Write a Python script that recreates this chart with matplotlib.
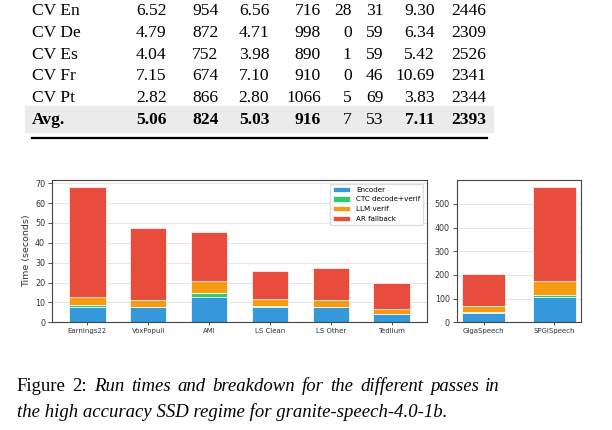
import matplotlib
matplotlib.use("Agg")
import matplotlib.pyplot as plt
import numpy as np

W, H = 612, 430

# table data (rows visible in the crop)
row_names = ["CV En", "CV De", "CV Es", "CV Fr", "CV Pt"]
col_1 = ["6.52", "4.79", "4.04", "7.15", "2.82"]
col_2 = ["954", "872", "752", "674", "866"]
col_3 = ["6.56", "4.71", "3.98", "7.10", "2.80"]
col_4 = ["716", "998", "890", "910", "1066"]
col_5 = ["28", "0", "1", "0", "5"]
col_6 = ["31", "59", "59", "46", "69"]
col_7 = ["9.30", "6.34", "5.42", "10.69", "3.83"]
col_8 = ["2446", "2309", "2526", "2341", "2344"]
avg_row = ["5.06", "824", "5.03", "916", "7", "53", "7.11", "2393"]
avg_bold = [True, True, True, True, False, False, True, True]

# chart data (seconds)
left_sets = ["Earnings22", "VoxPopuli", "AMI", "LS Clean", "LS Other", "Tedlium"]
left_encoder = [7.8, 7.5, 12.9, 7.5, 7.5, 4.2]
left_ctc = [0.9, 0.3, 1.6, 0.8, 0.2, 0.1]
left_llm = [3.8, 3.4, 6.2, 3.4, 3.5, 2.2]
left_ar = [55.7, 36.4, 24.8, 14.0, 15.9, 13.4]

right_sets = ["GigaSpeech", "SPGISpeech"]
right_encoder = [40, 106]
right_ctc = [4.5, 8.7]
right_llm = [24, 59]
right_ar = [134.5, 399]

labels = ["Encoder", "CTC decode+verif", "LLM verif", "AR fallback"]
colors = ["#3498db", "#2ecc71", "#f39c12", "#e74c3c"]

caption_1 = "Run times and breakdown for the different passes in"
caption_2 = "the high accuracy SSD regime for granite-speech-4.0-1b."

fig = plt.figure(figsize=(W / 100, H / 100), dpi=100)


def fx(x):
    return x / W


def fy(y):
    return 1 - y / H


# ---- table ----
serif = "Liberation Serif"
fs_tab = 12.6
baselines = [15, 36.8, 58.6, 80.4, 102.2]
avg_base = 124
col_right = [166.7, 218.3, 269.3, 321, 351.7, 383.3, 435, 486]
cols = [col_1, col_2, col_3, col_4, col_5, col_6, col_7, col_8]

# grey band behind the average row
fig.patches.append(plt.Rectangle((fx(25), fy(132.3)), fx(493.3) - fx(25), fy(106) - fy(132.3),
                                 transform=fig.transFigure, color="#ebebeb", zorder=0))
for i, name in enumerate(row_names):
    fig.text(fx(31.7), fy(baselines[i]), name, family=serif, fontsize=fs_tab, va="baseline")
    for c, col in enumerate(cols):
        fig.text(fx(col_right[c]), fy(baselines[i]), col[i], family=serif, fontsize=fs_tab,
                 va="baseline", ha="right")
fig.text(fx(31.7), fy(avg_base), "Avg.", family=serif, fontsize=fs_tab, va="baseline", weight="bold")
for c, v in enumerate(avg_row):
    fig.text(fx(col_right[c]), fy(avg_base), v, family=serif, fontsize=fs_tab, va="baseline",
             ha="right", weight="bold" if avg_bold[c] else "normal")
fig.add_artist(plt.Line2D([fx(31.7), fx(486.7)], [fy(138), fy(138)], color="black", lw=1.6))

# ---- bar charts ----
ax1 = fig.add_axes([fx(52), fy(322.3), fx(427) - fx(52), fy(180) - fy(322.3)])
ax2 = fig.add_axes([fx(456.7), fy(322.3), fx(581.3) - fx(456.7), fy(180) - fy(322.3)])


def stacked(ax, names, parts):
    x = np.arange(len(names))
    bottom = np.zeros(len(names))
    for vals, lab, col in zip(parts, labels, colors):
        ax.bar(x, vals, 0.6, bottom=bottom, color=col, label=lab, edgecolor="white", linewidth=0.5)
        bottom += np.array(vals)
    ax.set_xticks(x)
    ax.set_xticklabels(names, fontsize=5.0)
    ax.tick_params(axis="y", labelsize=5.8, length=3.2, width=0.6, pad=1.8, colors="#333333")
    ax.tick_params(axis="x", length=2, width=0.6, pad=2, colors="#333333")
    ax.yaxis.grid(True, alpha=0.3)
    ax.set_axisbelow(True)
    for s in ax.spines.values():
        s.set_color("#444444")
        s.set_linewidth(0.8)


stacked(ax1, left_sets, [left_encoder, left_ctc, left_llm, left_ar])
stacked(ax2, right_sets, [right_encoder, right_ctc, right_llm, right_ar])
ax1.set_yticks(range(0, 80, 10))
ax2.set_yticks(range(0, 600, 100))
ax1.set_ylabel("Time (seconds)", fontsize=6.8, labelpad=2.5, color="#333333")
ax1.legend(loc="upper right", fontsize=5.1, framealpha=1, edgecolor="#dddddd", borderpad=0.45,
           labelspacing=0.5, handlelength=2.4, handleheight=0.75)

# ---- caption ----
fs_cap = 13.5
renderer = fig.canvas.get_renderer()

# first line is justified between x=16.7 and x=500
words = [("Figure", "normal"), ("2:", "normal")] + [(w, "italic") for w in caption_1.split()]
texts = [fig.text(0, fy(390.7), w, family=serif, fontsize=fs_cap, va="baseline", style=st)
         for w, st in words]
widths = [t.get_window_extent(renderer).width for t in texts]
gap = (500 - 16.7 - sum(widths)) / (len(words) - 1)
xpos = 16.7
for t, w in zip(texts, widths):
    t.set_x(fx(xpos))
    xpos += w + gap
fig.text(fx(16.7), fy(416.7), caption_2, family=serif, fontsize=fs_cap, va="baseline", style="italic")

fig.savefig("out.png", dpi=100)
